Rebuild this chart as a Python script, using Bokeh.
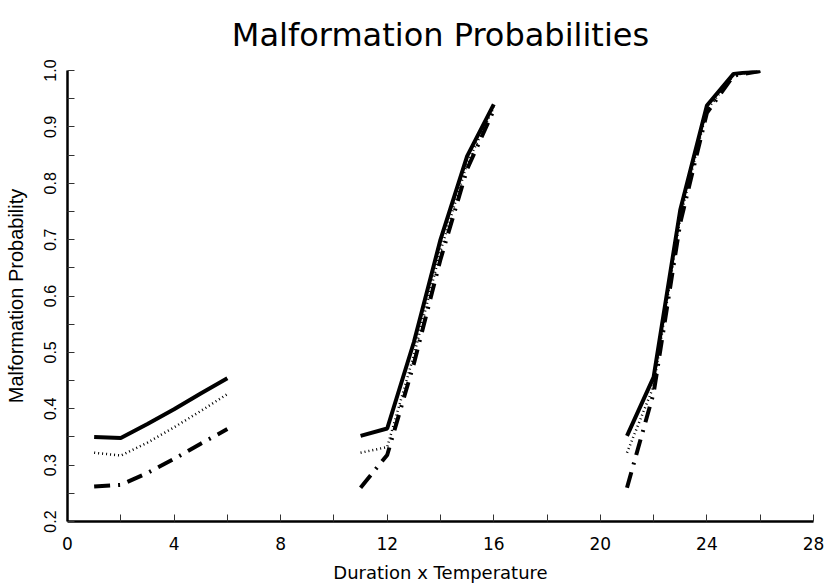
from bokeh.plotting import figure
from bokeh.models import FixedTicker, PrintfTickFormatter, Range1d
from bokeh.embed import file_html
from bokeh.resources import INLINE

# Duration x Temperature values (three groups of six)
groups = [[1, 2, 3, 4, 5, 6], [11, 12, 13, 14, 15, 16], [21, 22, 23, 24, 25, 26]]

# Malformation probabilities per group, three curves
prob_solid = [[0.350, 0.348, 0.373, 0.399, 0.427, 0.454],
              [0.352, 0.365, 0.518, 0.700, 0.848, 0.940],
              [0.352, 0.456, 0.753, 0.938, 0.994, 0.999]]
prob_dotted = [[0.322, 0.317, 0.340, 0.367, 0.396, 0.426],
               [0.322, 0.332, 0.495, 0.680, 0.835, 0.935],
               [0.322, 0.440, 0.740, 0.930, 0.992, 0.999]]
prob_dashdot = [[0.262, 0.265, 0.286, 0.311, 0.338, 0.364],
                [0.260, 0.318, 0.480, 0.665, 0.825, 0.930],
                [0.260, 0.428, 0.730, 0.925, 0.991, 0.999]]

x_ticks = [0, 4, 8, 12, 16, 20, 24, 28]
x_minor = [2, 6, 10, 14, 18, 22, 26]
y_ticks = [0.2, 0.3, 0.4, 0.5, 0.6, 0.7, 0.8, 0.9, 1.0]
y_minor = [0.25, 0.35, 0.45, 0.55, 0.65, 0.75, 0.85, 0.95]

p = figure(width=826, height=585, output_backend="svg", toolbar_location=None,
           x_range=Range1d(0, 28), y_range=Range1d(0.2, 1.0),
           title="Malformation Probabilities",
           min_border_left=67, min_border_right=13, min_border_top=70, min_border_bottom=62)

p.title.text_font = "DejaVu Sans"
p.title.text_font_size = "32px"
p.title.text_font_style = "normal"
p.title.text_color = "black"
p.title.align = "center"
p.title.vertical_align = "top"
p.title.standoff = 30

p.grid.visible = False
p.outline_line_color = None

for xs, ys in zip(groups, prob_solid):
    p.line(xs, ys, line_color="black", line_width=4)
for xs, ys in zip(groups, prob_dotted):
    p.line(xs, ys, line_color="black", line_width=2.5, line_dash="1 3")
for xs, ys in zip(groups, prob_dashdot):
    p.line(xs, ys, line_color="black", line_width=4, line_dash="16 8 2 8")

xa = p.xaxis[0]
xa.ticker = FixedTicker(ticks=x_ticks, minor_ticks=x_minor)
xa.axis_label = "Duration x Temperature"
xa.axis_label_text_font = "DejaVu Sans"
xa.axis_label_text_font_size = "18px"
xa.axis_label_text_font_style = "normal"
xa.major_label_text_font = "DejaVu Sans"
xa.major_label_text_font_size = "17px"
xa.major_label_standoff = 15
xa.axis_label_standoff = 9

ya = p.yaxis[0]
ya.ticker = FixedTicker(ticks=y_ticks, minor_ticks=y_minor)
ya.formatter = PrintfTickFormatter(format="%.1f")
ya.axis_label = "Malformation Probability"
ya.axis_label_text_font = "Liberation Sans"
ya.axis_label_text_font_size = "20px"
ya.axis_label_text_font_style = "normal"
ya.major_label_text_font = "Liberation Sans"
ya.major_label_text_font_size = "16px"
ya.major_label_orientation = "vertical"
ya.major_label_standoff = 12
ya.axis_label_standoff = 14

for ax in (xa, ya):
    ax.axis_line_width = 2.5
    ax.axis_line_color = "black"
    ax.major_tick_in = 7
    ax.major_tick_out = 0
    ax.minor_tick_in = 7
    ax.minor_tick_out = 0
    ax.major_tick_line_color = "#333333"
    ax.minor_tick_line_color = "#333333"
    ax.major_label_text_color = "black"
    ax.axis_label_text_color = "black"

open("out.html", "w").write(file_html(p, INLINE))
